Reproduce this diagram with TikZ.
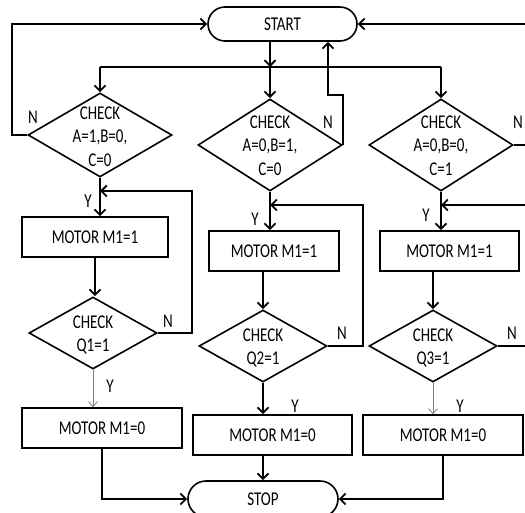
\documentclass[tikz,border=0pt]{standalone}
\usepackage{fontspec}
\setmainfont{Carlito}[FakeStretch=0.77]
\usetikzlibrary{shapes.geometric,shapes.misc,arrows.meta}
\begin{document}
\begin{tikzpicture}[x=1pt,y=-1pt,
  every node/.style={font=\fontsize{19.5}{23.5}\selectfont},
  shp/.style={draw,line width=1.6pt,inner sep=0pt},
  term/.style={shp,rounded rectangle},
  dia/.style={shp,diamond},
  box/.style={shp,rectangle},
  txt/.style={align=center,inner sep=0pt},
  lbl/.style={inner sep=0pt},
  ln/.style={line width=2pt},
  arr/.style={line width=2pt,-{Straight Barb[length=5.5pt,width=11pt,line width=1.8pt]}},
  garr/.style={line width=0.8pt,draw=gray,-{Straight Barb[length=5pt,width=9pt,line width=0.8pt]}}]
\useasboundingbox (0,0) rectangle (525,513);
\fill[white] (0,0) rectangle (525,513);

% nodes
\node[term,minimum width=149pt,minimum height=34pt] (start) at (282.5,24) {START};
\node[dia,minimum width=144pt,minimum height=84pt] (d1) at (100,135) {};
\node[dia,minimum width=144pt,minimum height=92pt] (d2) at (270,145) {};
\node[dia,minimum width=144pt,minimum height=92pt] (d3) at (441,145) {};
\node[txt] (t1) at (100,136.5) {CHECK\\A=1,B=0,\\C=0};
\node[txt] (t2) at (270,145.5) {CHECK\\A=0,B=1,\\C=0};
\node[txt] (t3) at (441,145.5) {CHECK\\A=0,B=0,\\C=1};

\node[box,minimum width=146pt,minimum height=40pt] (b1) at (95,237) {MOTOR M1=1};
\node[box,minimum width=130pt,minimum height=40pt] (b2) at (274,251) {MOTOR M1=1};
\node[box,minimum width=139pt,minimum height=40pt] (b3) at (449.5,251) {MOTOR M1=1};

\node[dia,minimum width=128pt,minimum height=72pt] (q1) at (93,333) {};
\node[dia,minimum width=128pt,minimum height=72pt] (q2) at (263,346) {};
\node[dia,minimum width=128pt,minimum height=72pt] (q3) at (433,346) {};
\node[txt] (tq1) at (93,335) {CHECK\\Q1=1};
\node[txt] (tq2) at (263,348) {CHECK\\Q2=1};
\node[txt] (tq3) at (433,348) {CHECK\\Q3=1};

\node[box,minimum width=160pt,minimum height=40pt] (e1) at (102,428) {MOTOR M1=0};
\node[box,minimum width=159pt,minimum height=40pt] (e2) at (272.5,435) {MOTOR M1=0};
\node[box,minimum width=160pt,minimum height=40pt] (e3) at (443,435) {MOTOR M1=0};

\node[term,minimum width=150pt,minimum height=36pt] (stop) at (263,499) {STOP};

% labels
\node[lbl] (n1) at (33,117) {N};
\node[lbl] (n2) at (328,122) {N};
\node[lbl] (n3) at (518,122) {N};
\node[lbl] (nq1) at (168,321) {N};
\node[lbl] (nq2) at (342,333) {N};
\node[lbl] (nq3) at (512,333) {N};
\node[lbl] (y1) at (88,201) {Y};
\node[lbl] (y2) at (255,219) {Y};
\node[lbl] (y3) at (426,215) {Y};
\node[lbl] (yq1) at (110,386) {Y};
\node[lbl] (yq2) at (295,406) {Y};
\node[lbl] (yq3) at (460,406) {Y};

% coordinates
\coordinate (barL) at (100,67);
\coordinate (barM) at (270,67);
\coordinate (barR) at (441,67);
\coordinate (lx) at (12,24);
\coordinate (j2) at (328,95);
\coordinate (r0) at (527,24);
\coordinate (r1) at (527,145);
\coordinate (r2) at (527,205);
\coordinate (r3) at (527,346);
\coordinate (l1) at (192,191);
\coordinate (l2) at (363,205);

% connectors
\draw[arr] (start.south -| barM) -- (barM);
\draw[ln] (barL) -- (barR);
\draw[arr] (barL) -- (d1.north);
\draw[arr] (barM) -- (d2.north);
\draw[arr] (barR) -- (d3.north);

\draw[arr] (d1.west) -| (lx) -- (start.west);
\draw[arr] (d2.east) |- (j2) -- (j2 |- start.south);
\draw[ln] (d3.east) -- (r1);
\draw[arr] (r0) -- (start.east);

\draw[arr] (d1.south) -- (d1.south |- b1.north);
\draw[arr] (d2.south) -- (d2.south |- b2.north);
\draw[arr] (d3.south) -- (d3.south |- b3.north);

\draw[arr] (b1.south) -- (b1.south |- q1.north);
\draw[arr] (q2.north |- b2.south) -- (q2.north);
\draw[arr] (q3.north |- b3.south) -- (q3.north);

\draw[arr] (q1.east) -| (l1) -- (d1.south |- l1);
\draw[arr] (q2.east) -| (l2) -- (d2.south |- l2);
\draw[ln] (q3.east) -- (r3);
\draw[arr] (r2) -- (d3.south |- r2);

\draw[garr] (q1.south) -- (q1.south |- e1.north);
\draw[arr] (q2.south) -- (q2.south |- e2.north);
\draw[garr] (q3.south) -- (q3.south |- e3.north);

\draw[arr] (e1.south) |- (stop.west);
\draw[arr] (q2.south |- e2.south) -- (q2.south |- stop.north);
\draw[arr] (e3.south) |- (stop.east);
\end{tikzpicture}
\end{document}
